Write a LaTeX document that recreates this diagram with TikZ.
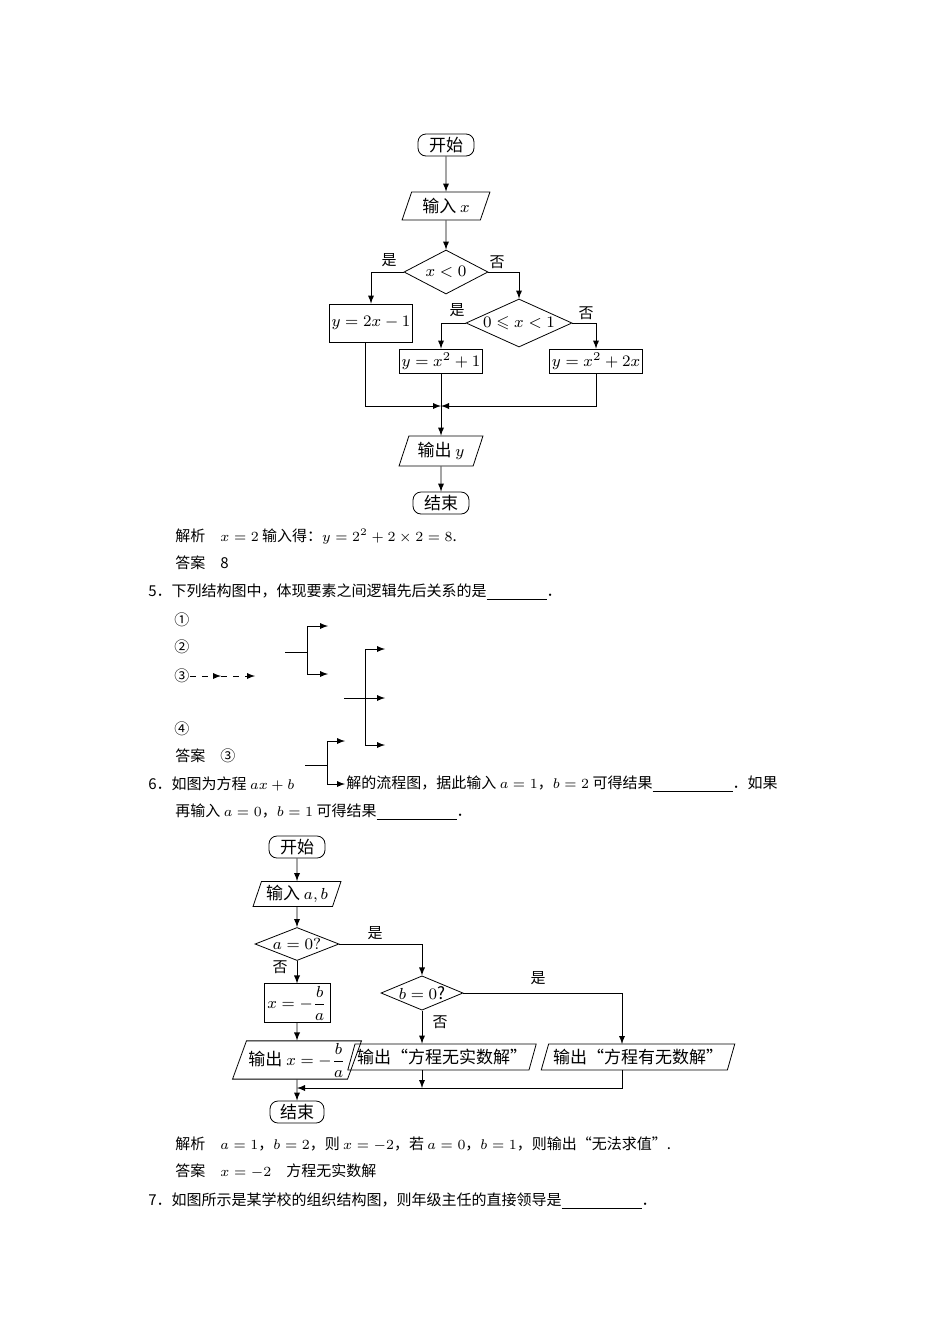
\documentclass[tikz,border=0pt]{standalone}
\usepackage{amsmath,amssymb}
\usepackage{fontspec}
\setmainfont{Noto Sans CJK SC}
\usetikzlibrary{shapes.geometric}
\begin{document}
\begin{tikzpicture}[x=0.5pt, y=-0.5pt, font=\fontsize{7.5}{9}\selectfont]
	\tikzset{debut/.style={rectangle, rounded corners=4pt, draw=black, inner sep=1pt, minimum width=28pt, minimum height=11pt, font=\fontsize{8.5}{10}\selectfont},
		boite/.style={rectangle, draw=black, inner sep=1pt, font=\fontsize{8.5}{10}\selectfont},
		entree/.style={trapezium, trapezium left angle=70, trapezium right angle=110, trapezium stretches=true, draw=black, inner sep=1pt, font=\fontsize{8.5}{10}\selectfont},
		test/.style={diamond, aspect=2.2, draw=black, inner sep=0pt, font=\fontsize{8.5}{10}\selectfont},
		fleche/.style={>=latex, ->},
		ligne/.style={anchor=west, inner sep=0pt}};
	\useasboundingbox (0,0) rectangle (950,1344);

	% premier organigramme
	\node[debut] (deb1) at (446,145) {开始};
	\node[entree, minimum width=44pt, minimum height=14pt] (in1) at (446,206) {输入 $x$};
	\node[test, minimum width=42pt, minimum height=22pt] (t1) at (446,272) {$x<0$};
	\node[boite, minimum width=38pt, minimum height=19pt] (y1) at (371,323) {$y=2x-1$};
	\node[test, minimum width=53pt, minimum height=24pt] (t2) at (519,323) {$0\leqslant x<1$};
	\node[boite, minimum width=33pt, minimum height=12pt] (y2) at (441,361) {$y=x^2+1$};
	\node[boite, minimum width=40pt, minimum height=12pt] (y3) at (596,361) {$y=x^2+2x$};
	\node[entree, minimum width=42pt, minimum height=15pt] (out1) at (441,451) {输出 $y$};
	\node[debut] (fin1) at (441,503) {结束};
	\coordinate (m1) at (441,406);

	\node at (389,260) {是};
	\node at (497,262) {否};
	\node at (457,310) {是};
	\node at (586,313) {否};

	\draw[fleche] (deb1) to (in1);
	\draw[fleche] (in1) to (t1);
	\draw[fleche] (t1.west) -| (y1.north);
	\draw[fleche] (t1.east) -| (t2.north);
	\draw[fleche] (t2.west) -| (y2.north);
	\draw[fleche] (t2.east) -| (y3.north);
	\draw[fleche] (y1.south -| 365,0) |- (m1);
	\draw[fleche] (y3.south) |- (m1);
	\draw[fleche] (y2) to (out1);
	\draw[fleche] (out1) to (fin1);

	% texte
	\node[ligne] (l1) at (175,537) {解析\quad $x=2$ 输入得：$y=2^2+2\times2=8$.};
	\node[ligne] (l2) at (175,563) {答案\quad 8};
	\node[ligne] (l3) at (148,592) {5．下列结构图中，体现要素之间逻辑先后关系的是\underline{\hspace{30pt}}．};
	\node[ligne] (c1) at (174,620) {①};
	\node[ligne] (c2) at (174,647) {②};
	\node[ligne] (c3) at (174,676) {③};
	\node[ligne] (c4) at (174,729) {④};
	\node[ligne] (l4) at (175,756) {答案\quad ③};
	\node[ligne] (l5) at (148,784) {6．如图为方程 $ax+b$};
	\node[ligne] (l6) at (346,784) {解的流程图，据此输入 $a=1$，$b=2$ 可得结果\underline{\hspace{40pt}}．如果};
	\node[ligne] (l7) at (175,812) {再输入 $a=0$，$b=1$ 可得结果\underline{\hspace{40pt}}．};

	% crochets
	\coordinate (p1) at (221,676);
	\coordinate (p2) at (255,676);
	\draw[fleche, dashed] (c3.east) to (p1);
	\draw[fleche, dashed] (p1) to (p2);
	\coordinate (a1) at (328,626);
	\coordinate (a2) at (328,674);
	\coordinate (a3) at (385,649);
	\coordinate (a4) at (385,698);
	\coordinate (a5) at (385,745);
	\coordinate (a6) at (345,741);
	\coordinate (a7) at (345,784);
	\draw (285,652) -- (307,652);
	\draw[fleche] (307,652) |- (a1);
	\draw[fleche] (307,652) |- (a2);
	\draw (344,698) -- (365,698);
	\draw[fleche] (365,698) |- (a3);
	\draw[fleche] (365,698) -- (a4);
	\draw[fleche] (365,698) |- (a5);
	\draw (305,765) -- (327,765);
	\draw[fleche] (327,765) |- (a6);
	\draw[fleche] (327,765) |- (a7);

	% second organigramme
	\node[debut] (deb2) at (297,847) {开始};
	\node[entree, minimum width=44pt, minimum height=12.5pt] (in2) at (297,894) {输入 $a,b$};
	\node[test, minimum width=42pt, minimum height=14pt] (t3) at (297,944) {$a=0?$};
	\node[boite, minimum width=33pt, minimum height=19pt] (x1) at (297,1003) {$x=-\dfrac{b}{a}$};
	\node[test, minimum width=41pt, minimum height=16pt] (t4) at (422,993) {$b=0$?};
	\node[entree, minimum width=50pt, minimum height=17pt] (out2) at (297,1060) {输出 $x=-\dfrac{b}{a}$};
	\node[entree, minimum width=93pt, minimum height=13pt] (out3) at (442,1057) {输出“方程无实数解”};
	\node[entree, minimum width=97pt, minimum height=13pt] (out4) at (638,1057) {输出“方程有无数解”};
	\node[debut, minimum width=27pt] (fin2) at (297,1112) {结束};
	\coordinate (m2) at (297,1088);
	\coordinate (m3) at (422,1088);

	\node at (375,933) {是};
	\node at (280,967) {否};
	\node at (538,978) {是};
	\node at (440,1022) {否};

	\draw[fleche] (deb2) to (in2);
	\draw[fleche] (in2) to (t3);
	\draw[fleche] (t3.east) -| (t4.north);
	\draw[fleche] (t3) to (x1);
	\draw[fleche] (x1) to (out2);
	\draw[fleche] (t4) to (t4 |- out3.north);
	\draw[fleche] (t4.east) -| (622,1044);
	\draw[fleche] (622,1070) |- (m2);
	\draw[fleche] (out3.south -| m3) to (m3);
	\draw[fleche] (out2) to (fin2);

	\node[ligne] (l8) at (175,1144) {解析\quad $a=1$，$b=2$，则 $x=-2$，若 $a=0$，$b=1$，则输出“无法求值”.};
	\node[ligne] (l9) at (175,1171) {答案\quad $x=-2$\quad 方程无实数解};
	\node[ligne] (l10) at (148,1201) {7．如图所示是某学校的组织结构图，则年级主任的直接领导是\underline{\hspace{40pt}}．};
\end{tikzpicture}
\end{document}
